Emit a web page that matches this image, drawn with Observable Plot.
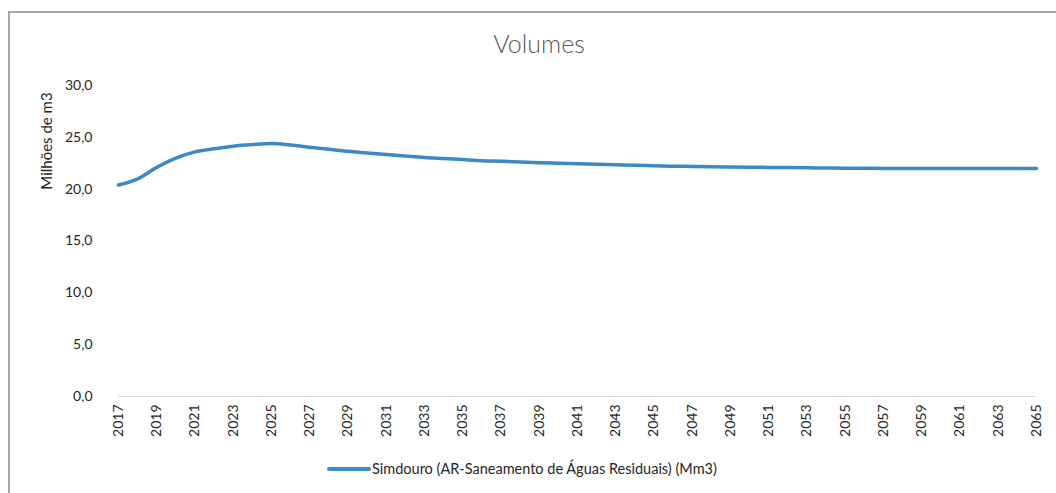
<!DOCTYPE html>
<html>
<head>
<meta charset="utf-8">
<script src="https://cdn.jsdelivr.net/npm/d3@7"></script>
<script src="https://cdn.jsdelivr.net/npm/@observablehq/plot@0.6"></script>
<style>
  html, body { margin: 0; padding: 0; background: #fff; }
  #wrap { position: relative; width: 1056px; height: 493px; overflow: hidden; font-family: Lato, "Open Sans", sans-serif; }
  #frame { position: absolute; left: 8px; top: 11px; width: 1060px; height: 490px; border-left: 2px solid #a6a6a6; border-top: 2px solid #a6a6a6; }
  #title { position: absolute; left: 0; width: 1078px; top: 28px; text-align: center; font-size: 25px; font-weight: 300; color: #595959; }
  #ylabel { position: absolute; left: 46px; top: 141px; transform: translate(-50%, -50%) rotate(-90deg); white-space: nowrap; font-size: 15px; color: #262626; }
  #chart { position: absolute; left: 0; top: 0; }
  #legend { position: absolute; left: 327px; top: 460px; display: flex; align-items: center; font-size: 14.5px; color: #262626; }
  #legend .sw { width: 44px; height: 4px; background: #3d89c8; border-radius: 2px; margin-right: 1px; }
</style>
</head>
<body>
<div id="wrap">
  <div id="frame"></div>
  <div id="chart"></div>
  <div id="title"></div>
  <div id="ylabel"></div>
  <div id="legend"><span class="sw"></span><span id="legtext"></span></div>
</div>
<script>
const titleText = "Volumes";
const yTitle = "Milhões de m3";
const seriesName = "Simdouro (AR-Saneamento de Águas Residuais) (Mm3)";

const years = [2017,2018,2019,2020,2021,2022,2023,2024,2025,2026,2027,2028,2029,2030,2031,2032,2033,2034,2035,2036,2037,2038,2039,2040,2041,2042,2043,2044,2045,2046,2047,2048,2049,2050,2051,2052,2053,2054,2055,2056,2057,2058,2059,2060,2061,2062,2063,2064,2065];
const volumes = [20.4,21.0,22.1,23.0,23.6,23.9,24.15,24.3,24.4,24.25,24.05,23.85,23.65,23.5,23.35,23.2,23.05,22.95,22.85,22.75,22.7,22.62,22.55,22.5,22.45,22.4,22.35,22.3,22.26,22.22,22.19,22.16,22.14,22.12,22.1,22.08,22.06,22.04,22.02,22.01,22.0,22.0,21.99,21.99,21.99,21.99,22.0,22.0,22.0];
const xTicks = years.filter((y, i) => i % 2 === 0);
const yTicks = [0, 5, 10, 15, 20, 25, 30];

document.getElementById("title").textContent = titleText;
document.getElementById("ylabel").textContent = yTitle;
document.getElementById("legtext").textContent = seriesName;

const data = years.map((y, i) => ({year: y, value: volumes[i]}));
const fmt = v => v.toFixed(1).replace(".", ",");

const chart = Plot.plot({
  width: 1056,
  height: 460,
  marginLeft: 118,
  marginRight: 20,
  marginTop: 85,
  marginBottom: 64,
  style: {fontFamily: "Lato, 'Open Sans', sans-serif", fontSize: "14px", color: "#262626", background: "transparent"},
  x: {domain: [years[0], years[years.length - 1]], ticks: xTicks, tickFormat: d => String(d), tickRotate: -90, tickSize: 0, tickPadding: 8, label: null},
  y: {domain: [0, 30], ticks: yTicks, tickFormat: fmt, tickSize: 0, tickPadding: 26, label: null},
  marks: [
    Plot.ruleY([0], {stroke: "#d9d9d9", strokeWidth: 1}),
    Plot.line(data, {x: "year", y: "value", stroke: "#3d89c8", strokeWidth: 3.5, curve: "monotone-x"})
  ]
});
document.getElementById("chart").appendChild(chart);
</script>
</body>
</html>
